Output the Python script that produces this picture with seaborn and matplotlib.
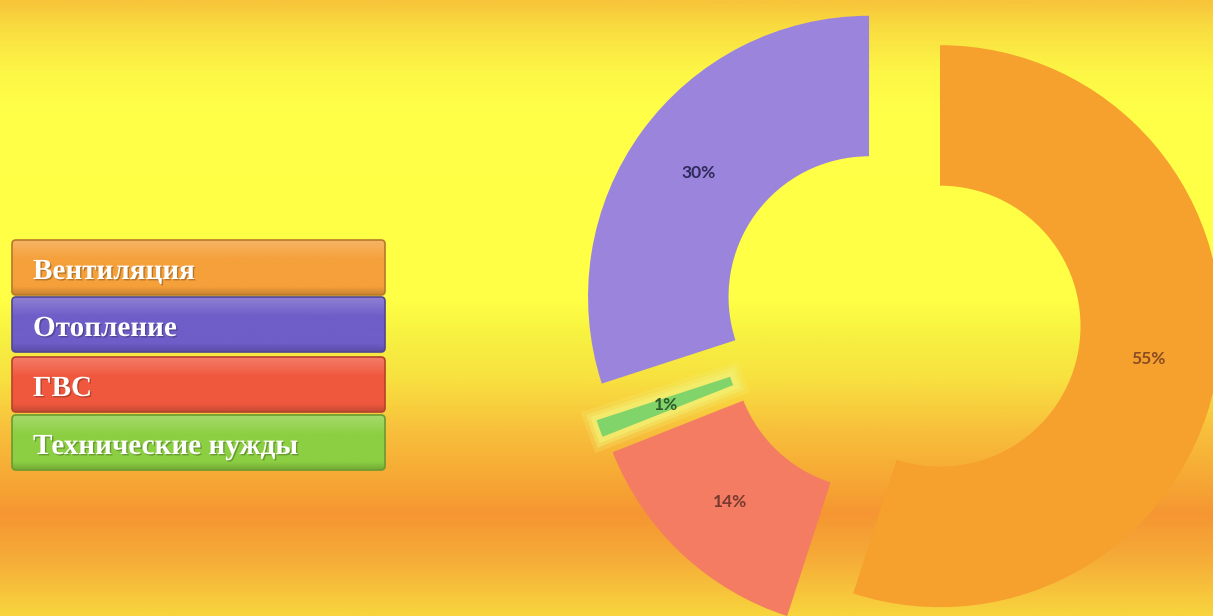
import numpy as np
import matplotlib
matplotlib.use('Agg')
import matplotlib.pyplot as plt
import matplotlib.patches as mpatches
import matplotlib.patheffects as pe
from matplotlib.colors import LinearSegmentedColormap, to_rgb
import seaborn as sns

# Data (legend order)
categories = ['Вентиляция', 'Отопление', 'ГВС', 'Технические нужды']
shares = [55, 30, 14, 1]
pie_colors = ['#f6a02e', '#9b84dc', '#f37c62', '#80d46a']
legend_colors = ['#f5a03a', '#6f5dc8', '#f0583e', '#8ccf42']
pct_colors = ['#8a4c22', '#2e2a5c', '#7a3a30', '#2f5a2a']
# order of wedges going counter-clockwise
pie_order = [0, 1, 3, 2]

# background gradient stops (y from top in px, colour)
bg_pos = [0, 25, 70, 110, 300, 340, 380, 430, 480, 515, 560, 616]
bg_cols = ['#f8c43a', '#f9dc40', '#fdf646', '#ffff48', '#ffff45', '#f6f040',
           '#f8e040', '#f8c03c', '#f6a834', '#f59632', '#f6ac38', '#f8d43e']

sns.set_theme(style='white')
plt.rcParams['font.family'] = ['Lato', 'DejaVu Sans']

W, H = 1213, 616
fig = plt.figure(figsize=(W / 100, H / 100), dpi=100)
ax = fig.add_axes([0, 0, 1, 1])

# background
cmap = LinearSegmentedColormap.from_list('bg', list(zip(np.array(bg_pos) / H, bg_cols)))
grad = np.linspace(0, 1, 600).reshape(-1, 1)
ax.imshow(grad, cmap=cmap, aspect='auto', extent=[0, W, 0, H], origin='upper', zorder=0)

# donut
vals = [shares[i] for i in pie_order]
radius = 281
wedges, texts, autotexts = ax.pie(
    vals, colors=[pie_colors[i] for i in pie_order], startangle=-108,
    counterclock=True, explode=[39.5] * 4, radius=radius, center=(901, 296),
    autopct='%.0f%%', pctdistance=0.75,
    wedgeprops=dict(width=radius * 0.5, linewidth=0),
    textprops=dict(fontsize=12.5, fontweight='bold'))
for k, i in enumerate(pie_order):
    autotexts[k].set_color(pct_colors[i])
    wedges[k].set_zorder(3)
    autotexts[k].set_zorder(5)

# soft pale halo around the thin slice
small = wedges[pie_order.index(3)]
for lw, a in [(18, 0.25), (12, 0.45), (7, 0.7)]:
    halo = mpatches.Wedge(small.center, small.r, small.theta1, small.theta2, width=small.width,
                          facecolor='#f3ef72', edgecolor='#f3ef72', linewidth=lw,
                          alpha=a, zorder=2)
    ax.add_patch(halo)

# legend boxes
box_x, box_w = 12, 373
box_top = [240, 297, 357, 415]
box_h = 55
for name, col, top in zip(categories, legend_colors, box_top):
    y0 = H - top - box_h
    c = np.array(to_rgb(col))
    light = np.clip(c + 0.22 * (1 - c), 0, 1)
    dark = c * 0.82
    gcm = LinearSegmentedColormap.from_list('b', [(0, light), (0.35, c), (0.85, c), (1, dark)])
    im = ax.imshow(np.linspace(0, 1, 100).reshape(-1, 1), cmap=gcm, aspect='auto',
                   extent=[box_x, box_x + box_w, y0, y0 + box_h], origin='upper', zorder=3)
    clip = mpatches.FancyBboxPatch((box_x, y0), box_w, box_h,
                                   boxstyle='round,pad=0,rounding_size=4',
                                   facecolor='none', edgecolor=tuple(c * 0.75), linewidth=1.2, zorder=4)
    ax.add_patch(clip)
    im.set_clip_path(clip)
    ax.text(box_x + 21, y0 + box_h / 2 - 4, name, color='white', fontsize=21, fontweight='bold',
            family=['Liberation Serif', 'DejaVu Serif'], va='center', ha='left', zorder=5,
            path_effects=[pe.withSimplePatchShadow(offset=(1, -1), shadow_rgbFace=(0, 0, 0), alpha=0.25)])

ax.set_xlim(0, W)
ax.set_ylim(0, H)
ax.set_aspect('auto')
ax.axis('off')

fig.savefig('out.png', dpi=100)
